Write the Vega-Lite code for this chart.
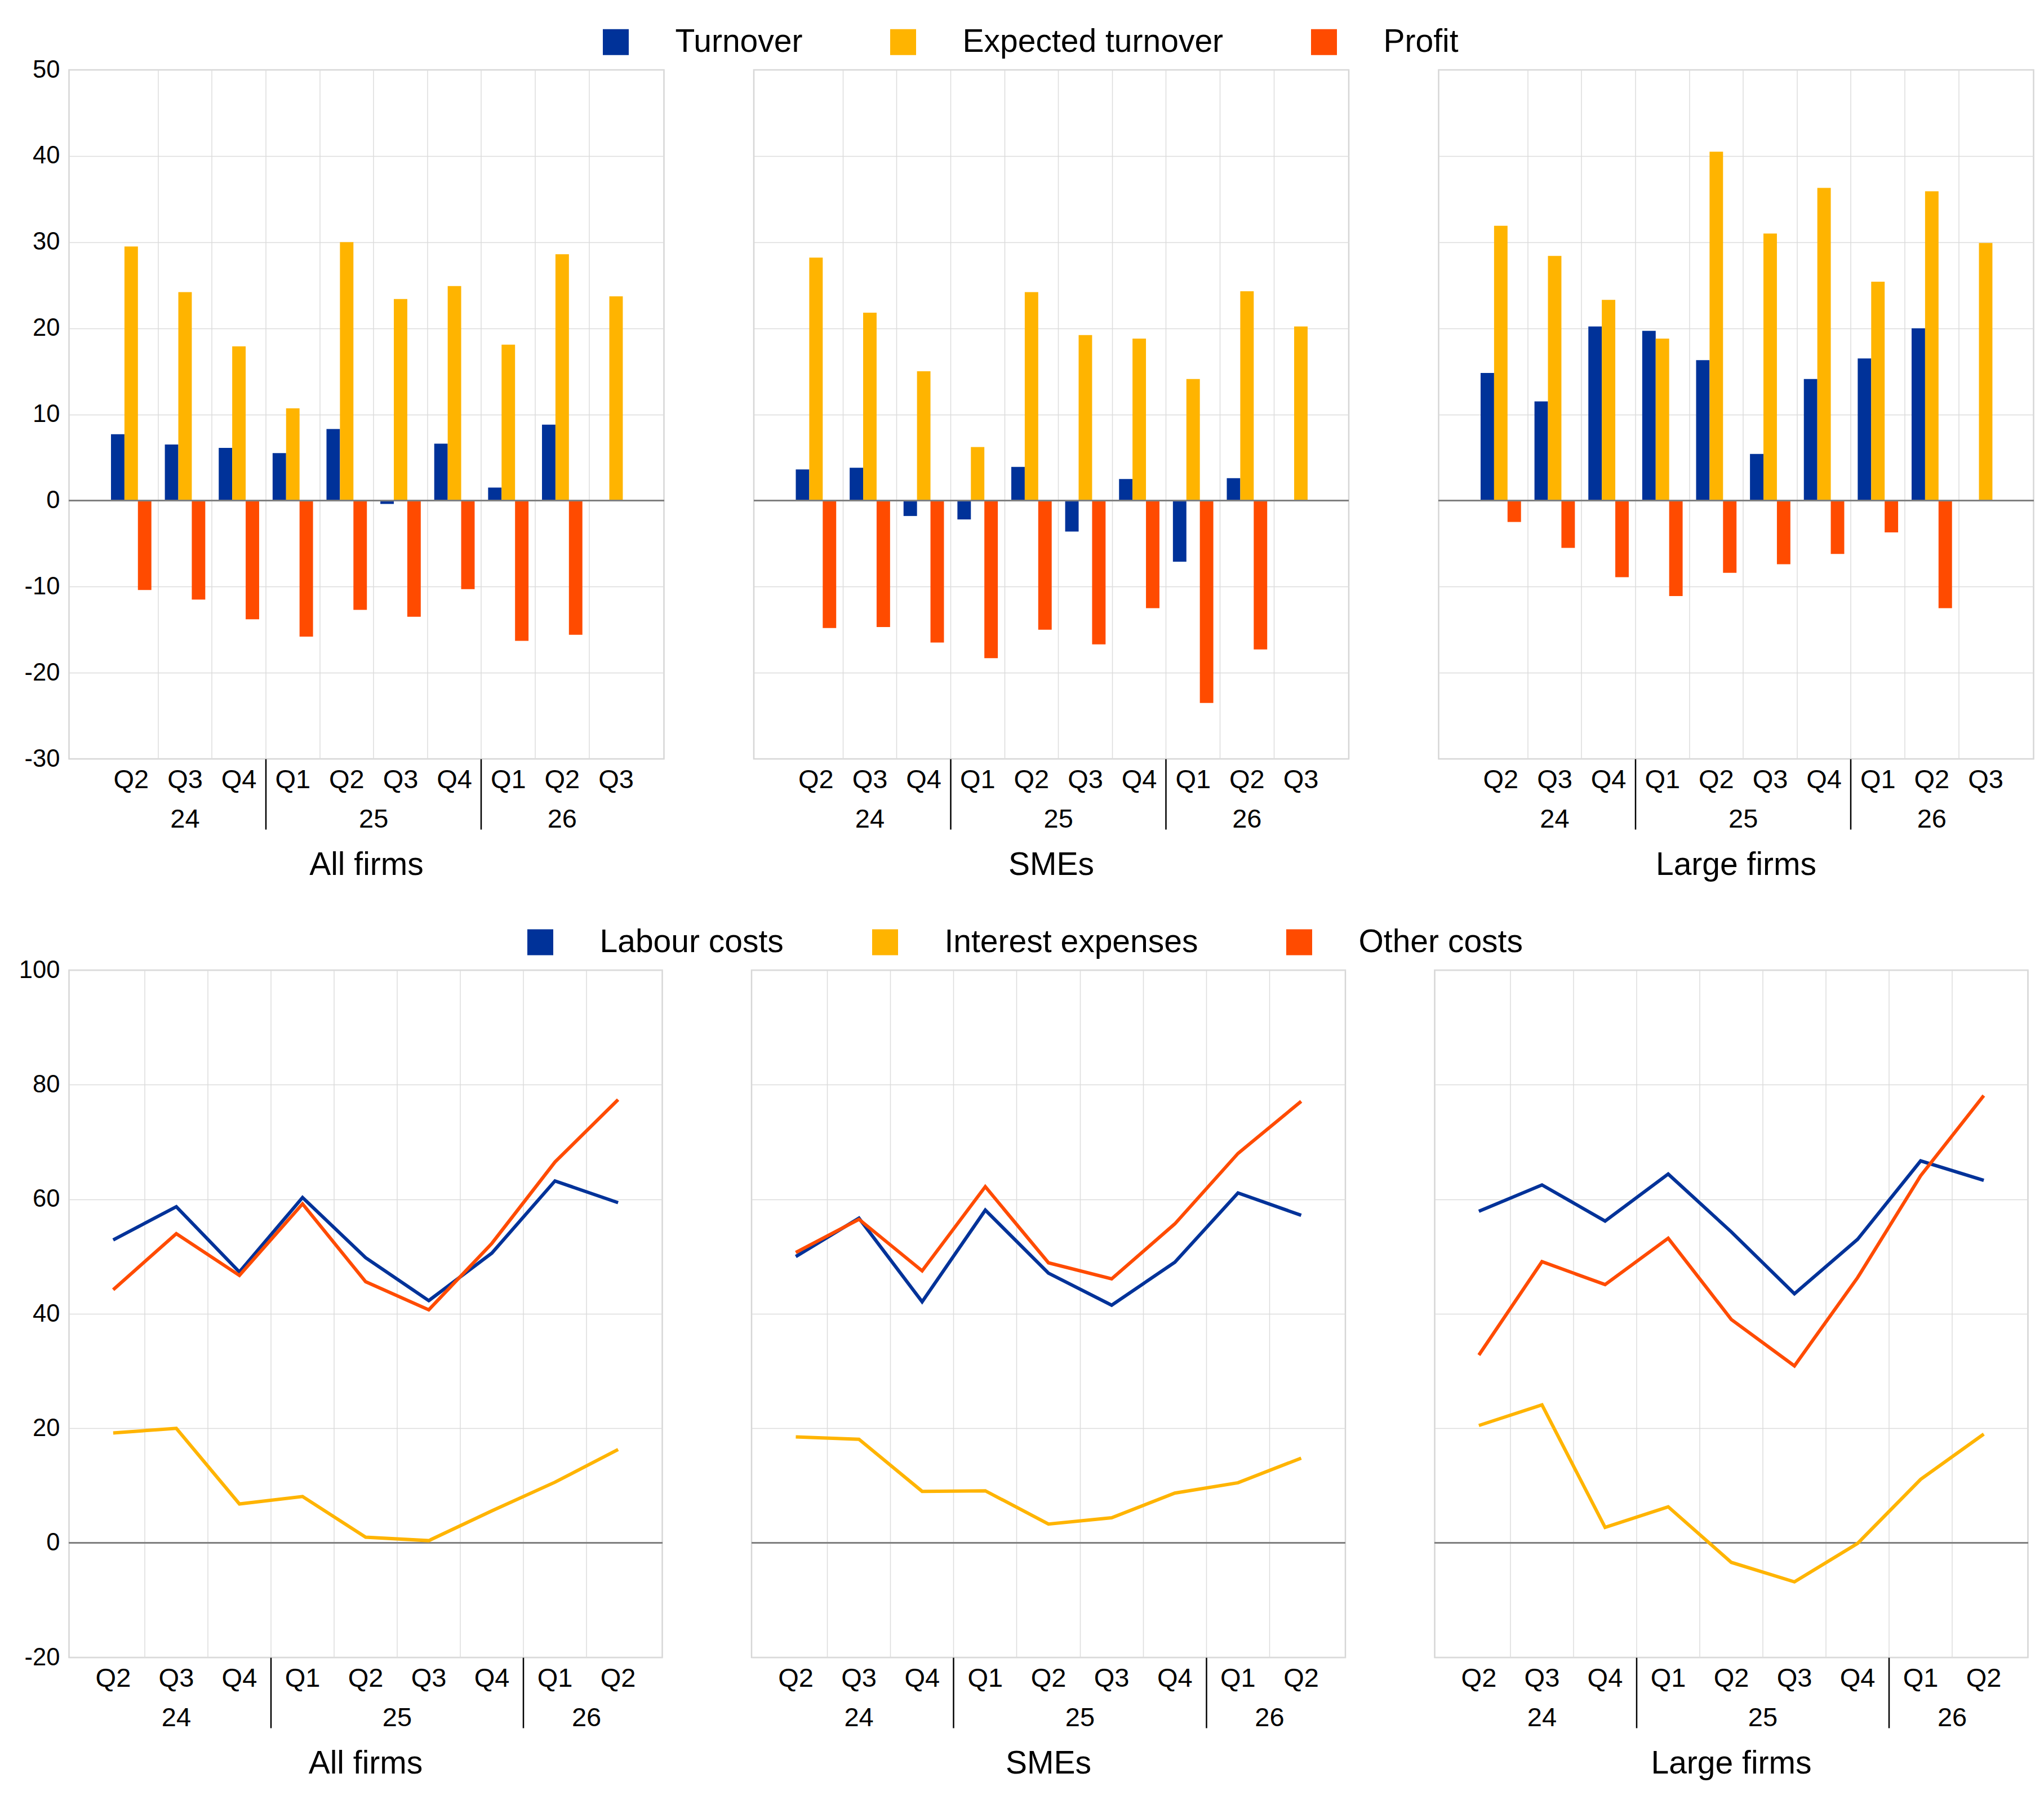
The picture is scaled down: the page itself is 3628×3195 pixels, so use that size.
{
  "$schema": "https://vega.github.io/schema/vega-lite/v6.json",
  "background": "white",
  "padding": {"left": 31.5, "top": 46, "right": 0, "bottom": 0},
  "datasets": {
    "bars": [
      {"panel": "All firms", "q": "24Q2", "series": "Turnover", "value": 7.7},
      {"panel": "All firms", "q": "24Q3", "series": "Turnover", "value": 6.5},
      {"panel": "All firms", "q": "24Q4", "series": "Turnover", "value": 6.1},
      {"panel": "All firms", "q": "25Q1", "series": "Turnover", "value": 5.5},
      {"panel": "All firms", "q": "25Q2", "series": "Turnover", "value": 8.3},
      {"panel": "All firms", "q": "25Q3", "series": "Turnover", "value": -0.4},
      {"panel": "All firms", "q": "25Q4", "series": "Turnover", "value": 6.6},
      {"panel": "All firms", "q": "26Q1", "series": "Turnover", "value": 1.5},
      {"panel": "All firms", "q": "26Q2", "series": "Turnover", "value": 8.8},
      {"panel": "All firms", "q": "24Q2", "series": "Expected turnover", "value": 29.5},
      {"panel": "All firms", "q": "24Q3", "series": "Expected turnover", "value": 24.2},
      {"panel": "All firms", "q": "24Q4", "series": "Expected turnover", "value": 17.9},
      {"panel": "All firms", "q": "25Q1", "series": "Expected turnover", "value": 10.7},
      {"panel": "All firms", "q": "25Q2", "series": "Expected turnover", "value": 30.0},
      {"panel": "All firms", "q": "25Q3", "series": "Expected turnover", "value": 23.4},
      {"panel": "All firms", "q": "25Q4", "series": "Expected turnover", "value": 24.9},
      {"panel": "All firms", "q": "26Q1", "series": "Expected turnover", "value": 18.1},
      {"panel": "All firms", "q": "26Q2", "series": "Expected turnover", "value": 28.6},
      {"panel": "All firms", "q": "26Q3", "series": "Expected turnover", "value": 23.7},
      {"panel": "All firms", "q": "24Q2", "series": "Profit", "value": -10.4},
      {"panel": "All firms", "q": "24Q3", "series": "Profit", "value": -11.5},
      {"panel": "All firms", "q": "24Q4", "series": "Profit", "value": -13.8},
      {"panel": "All firms", "q": "25Q1", "series": "Profit", "value": -15.8},
      {"panel": "All firms", "q": "25Q2", "series": "Profit", "value": -12.7},
      {"panel": "All firms", "q": "25Q3", "series": "Profit", "value": -13.5},
      {"panel": "All firms", "q": "25Q4", "series": "Profit", "value": -10.3},
      {"panel": "All firms", "q": "26Q1", "series": "Profit", "value": -16.3},
      {"panel": "All firms", "q": "26Q2", "series": "Profit", "value": -15.6},
      {"panel": "SMEs", "q": "24Q2", "series": "Turnover", "value": 3.6},
      {"panel": "SMEs", "q": "24Q3", "series": "Turnover", "value": 3.8},
      {"panel": "SMEs", "q": "24Q4", "series": "Turnover", "value": -1.8},
      {"panel": "SMEs", "q": "25Q1", "series": "Turnover", "value": -2.2},
      {"panel": "SMEs", "q": "25Q2", "series": "Turnover", "value": 3.9},
      {"panel": "SMEs", "q": "25Q3", "series": "Turnover", "value": -3.6},
      {"panel": "SMEs", "q": "25Q4", "series": "Turnover", "value": 2.5},
      {"panel": "SMEs", "q": "26Q1", "series": "Turnover", "value": -7.1},
      {"panel": "SMEs", "q": "26Q2", "series": "Turnover", "value": 2.6},
      {"panel": "SMEs", "q": "24Q2", "series": "Expected turnover", "value": 28.2},
      {"panel": "SMEs", "q": "24Q3", "series": "Expected turnover", "value": 21.8},
      {"panel": "SMEs", "q": "24Q4", "series": "Expected turnover", "value": 15.0},
      {"panel": "SMEs", "q": "25Q1", "series": "Expected turnover", "value": 6.2},
      {"panel": "SMEs", "q": "25Q2", "series": "Expected turnover", "value": 24.2},
      {"panel": "SMEs", "q": "25Q3", "series": "Expected turnover", "value": 19.2},
      {"panel": "SMEs", "q": "25Q4", "series": "Expected turnover", "value": 18.8},
      {"panel": "SMEs", "q": "26Q1", "series": "Expected turnover", "value": 14.1},
      {"panel": "SMEs", "q": "26Q2", "series": "Expected turnover", "value": 24.3},
      {"panel": "SMEs", "q": "26Q3", "series": "Expected turnover", "value": 20.2},
      {"panel": "SMEs", "q": "24Q2", "series": "Profit", "value": -14.8},
      {"panel": "SMEs", "q": "24Q3", "series": "Profit", "value": -14.7},
      {"panel": "SMEs", "q": "24Q4", "series": "Profit", "value": -16.5},
      {"panel": "SMEs", "q": "25Q1", "series": "Profit", "value": -18.3},
      {"panel": "SMEs", "q": "25Q2", "series": "Profit", "value": -15.0},
      {"panel": "SMEs", "q": "25Q3", "series": "Profit", "value": -16.7},
      {"panel": "SMEs", "q": "25Q4", "series": "Profit", "value": -12.5},
      {"panel": "SMEs", "q": "26Q1", "series": "Profit", "value": -23.5},
      {"panel": "SMEs", "q": "26Q2", "series": "Profit", "value": -17.3},
      {"panel": "Large firms", "q": "24Q2", "series": "Turnover", "value": 14.8},
      {"panel": "Large firms", "q": "24Q3", "series": "Turnover", "value": 11.5},
      {"panel": "Large firms", "q": "24Q4", "series": "Turnover", "value": 20.2},
      {"panel": "Large firms", "q": "25Q1", "series": "Turnover", "value": 19.7},
      {"panel": "Large firms", "q": "25Q2", "series": "Turnover", "value": 16.3},
      {"panel": "Large firms", "q": "25Q3", "series": "Turnover", "value": 5.4},
      {"panel": "Large firms", "q": "25Q4", "series": "Turnover", "value": 14.1},
      {"panel": "Large firms", "q": "26Q1", "series": "Turnover", "value": 16.5},
      {"panel": "Large firms", "q": "26Q2", "series": "Turnover", "value": 20.0},
      {"panel": "Large firms", "q": "24Q2", "series": "Expected turnover", "value": 31.9},
      {"panel": "Large firms", "q": "24Q3", "series": "Expected turnover", "value": 28.4},
      {"panel": "Large firms", "q": "24Q4", "series": "Expected turnover", "value": 23.3},
      {"panel": "Large firms", "q": "25Q1", "series": "Expected turnover", "value": 18.8},
      {"panel": "Large firms", "q": "25Q2", "series": "Expected turnover", "value": 40.5},
      {"panel": "Large firms", "q": "25Q3", "series": "Expected turnover", "value": 31.0},
      {"panel": "Large firms", "q": "25Q4", "series": "Expected turnover", "value": 36.3},
      {"panel": "Large firms", "q": "26Q1", "series": "Expected turnover", "value": 25.4},
      {"panel": "Large firms", "q": "26Q2", "series": "Expected turnover", "value": 35.9},
      {"panel": "Large firms", "q": "26Q3", "series": "Expected turnover", "value": 29.9},
      {"panel": "Large firms", "q": "24Q2", "series": "Profit", "value": -2.5},
      {"panel": "Large firms", "q": "24Q3", "series": "Profit", "value": -5.5},
      {"panel": "Large firms", "q": "24Q4", "series": "Profit", "value": -8.9},
      {"panel": "Large firms", "q": "25Q1", "series": "Profit", "value": -11.1},
      {"panel": "Large firms", "q": "25Q2", "series": "Profit", "value": -8.4},
      {"panel": "Large firms", "q": "25Q3", "series": "Profit", "value": -7.4},
      {"panel": "Large firms", "q": "25Q4", "series": "Profit", "value": -6.2},
      {"panel": "Large firms", "q": "26Q1", "series": "Profit", "value": -3.7},
      {"panel": "Large firms", "q": "26Q2", "series": "Profit", "value": -12.5}
    ],
    "lines": [
      {"panel": "All firms", "q": "24Q2", "series": "Labour costs", "value": 52.9},
      {"panel": "All firms", "q": "24Q3", "series": "Labour costs", "value": 58.7},
      {"panel": "All firms", "q": "24Q4", "series": "Labour costs", "value": 47.3},
      {"panel": "All firms", "q": "25Q1", "series": "Labour costs", "value": 60.3},
      {"panel": "All firms", "q": "25Q2", "series": "Labour costs", "value": 49.8},
      {"panel": "All firms", "q": "25Q3", "series": "Labour costs", "value": 42.3},
      {"panel": "All firms", "q": "25Q4", "series": "Labour costs", "value": 50.6},
      {"panel": "All firms", "q": "26Q1", "series": "Labour costs", "value": 63.2},
      {"panel": "All firms", "q": "26Q2", "series": "Labour costs", "value": 59.4},
      {"panel": "All firms", "q": "24Q2", "series": "Interest expenses", "value": 19.2},
      {"panel": "All firms", "q": "24Q3", "series": "Interest expenses", "value": 20.0},
      {"panel": "All firms", "q": "24Q4", "series": "Interest expenses", "value": 6.8},
      {"panel": "All firms", "q": "25Q1", "series": "Interest expenses", "value": 8.1},
      {"panel": "All firms", "q": "25Q2", "series": "Interest expenses", "value": 1.0},
      {"panel": "All firms", "q": "25Q3", "series": "Interest expenses", "value": 0.4},
      {"panel": "All firms", "q": "25Q4", "series": "Interest expenses", "value": 5.6},
      {"panel": "All firms", "q": "26Q1", "series": "Interest expenses", "value": 10.6},
      {"panel": "All firms", "q": "26Q2", "series": "Interest expenses", "value": 16.3},
      {"panel": "All firms", "q": "24Q2", "series": "Other costs", "value": 44.2},
      {"panel": "All firms", "q": "24Q3", "series": "Other costs", "value": 54.0},
      {"panel": "All firms", "q": "24Q4", "series": "Other costs", "value": 46.7},
      {"panel": "All firms", "q": "25Q1", "series": "Other costs", "value": 59.2},
      {"panel": "All firms", "q": "25Q2", "series": "Other costs", "value": 45.6},
      {"panel": "All firms", "q": "25Q3", "series": "Other costs", "value": 40.7},
      {"panel": "All firms", "q": "25Q4", "series": "Other costs", "value": 52.3},
      {"panel": "All firms", "q": "26Q1", "series": "Other costs", "value": 66.5},
      {"panel": "All firms", "q": "26Q2", "series": "Other costs", "value": 77.4},
      {"panel": "SMEs", "q": "24Q2", "series": "Labour costs", "value": 50.0},
      {"panel": "SMEs", "q": "24Q3", "series": "Labour costs", "value": 56.7},
      {"panel": "SMEs", "q": "24Q4", "series": "Labour costs", "value": 42.1},
      {"panel": "SMEs", "q": "25Q1", "series": "Labour costs", "value": 58.1},
      {"panel": "SMEs", "q": "25Q2", "series": "Labour costs", "value": 47.1},
      {"panel": "SMEs", "q": "25Q3", "series": "Labour costs", "value": 41.5},
      {"panel": "SMEs", "q": "25Q4", "series": "Labour costs", "value": 49.0},
      {"panel": "SMEs", "q": "26Q1", "series": "Labour costs", "value": 61.1},
      {"panel": "SMEs", "q": "26Q2", "series": "Labour costs", "value": 57.2},
      {"panel": "SMEs", "q": "24Q2", "series": "Interest expenses", "value": 18.5},
      {"panel": "SMEs", "q": "24Q3", "series": "Interest expenses", "value": 18.1},
      {"panel": "SMEs", "q": "24Q4", "series": "Interest expenses", "value": 9.0},
      {"panel": "SMEs", "q": "25Q1", "series": "Interest expenses", "value": 9.1},
      {"panel": "SMEs", "q": "25Q2", "series": "Interest expenses", "value": 3.3},
      {"panel": "SMEs", "q": "25Q3", "series": "Interest expenses", "value": 4.4},
      {"panel": "SMEs", "q": "25Q4", "series": "Interest expenses", "value": 8.7},
      {"panel": "SMEs", "q": "26Q1", "series": "Interest expenses", "value": 10.5},
      {"panel": "SMEs", "q": "26Q2", "series": "Interest expenses", "value": 14.8},
      {"panel": "SMEs", "q": "24Q2", "series": "Other costs", "value": 50.7},
      {"panel": "SMEs", "q": "24Q3", "series": "Other costs", "value": 56.5},
      {"panel": "SMEs", "q": "24Q4", "series": "Other costs", "value": 47.5},
      {"panel": "SMEs", "q": "25Q1", "series": "Other costs", "value": 62.2},
      {"panel": "SMEs", "q": "25Q2", "series": "Other costs", "value": 48.9},
      {"panel": "SMEs", "q": "25Q3", "series": "Other costs", "value": 46.1},
      {"panel": "SMEs", "q": "25Q4", "series": "Other costs", "value": 55.7},
      {"panel": "SMEs", "q": "26Q1", "series": "Other costs", "value": 68.0},
      {"panel": "SMEs", "q": "26Q2", "series": "Other costs", "value": 77.1},
      {"panel": "Large firms", "q": "24Q2", "series": "Labour costs", "value": 57.9},
      {"panel": "Large firms", "q": "24Q3", "series": "Labour costs", "value": 62.5},
      {"panel": "Large firms", "q": "24Q4", "series": "Labour costs", "value": 56.2},
      {"panel": "Large firms", "q": "25Q1", "series": "Labour costs", "value": 64.4},
      {"panel": "Large firms", "q": "25Q2", "series": "Labour costs", "value": 54.3},
      {"panel": "Large firms", "q": "25Q3", "series": "Labour costs", "value": 43.5},
      {"panel": "Large firms", "q": "25Q4", "series": "Labour costs", "value": 53.0},
      {"panel": "Large firms", "q": "26Q1", "series": "Labour costs", "value": 66.7},
      {"panel": "Large firms", "q": "26Q2", "series": "Labour costs", "value": 63.3},
      {"panel": "Large firms", "q": "24Q2", "series": "Interest expenses", "value": 20.5},
      {"panel": "Large firms", "q": "24Q3", "series": "Interest expenses", "value": 24.1},
      {"panel": "Large firms", "q": "24Q4", "series": "Interest expenses", "value": 2.7},
      {"panel": "Large firms", "q": "25Q1", "series": "Interest expenses", "value": 6.3},
      {"panel": "Large firms", "q": "25Q2", "series": "Interest expenses", "value": -3.4},
      {"panel": "Large firms", "q": "25Q3", "series": "Interest expenses", "value": -6.8},
      {"panel": "Large firms", "q": "25Q4", "series": "Interest expenses", "value": -0.1},
      {"panel": "Large firms", "q": "26Q1", "series": "Interest expenses", "value": 11.1},
      {"panel": "Large firms", "q": "26Q2", "series": "Interest expenses", "value": 19.0},
      {"panel": "Large firms", "q": "24Q2", "series": "Other costs", "value": 32.8},
      {"panel": "Large firms", "q": "24Q3", "series": "Other costs", "value": 49.1},
      {"panel": "Large firms", "q": "24Q4", "series": "Other costs", "value": 45.1},
      {"panel": "Large firms", "q": "25Q1", "series": "Other costs", "value": 53.2},
      {"panel": "Large firms", "q": "25Q2", "series": "Other costs", "value": 39.0},
      {"panel": "Large firms", "q": "25Q3", "series": "Other costs", "value": 30.9},
      {"panel": "Large firms", "q": "25Q4", "series": "Other costs", "value": 46.3},
      {"panel": "Large firms", "q": "26Q1", "series": "Other costs", "value": 64.1},
      {"panel": "Large firms", "q": "26Q2", "series": "Other costs", "value": 78.1}
    ]
  },
  "concat": [
    {
      "spacing": 153.5,
      "hconcat": [
        {
          "width": 1056, "height": 1223,
          "data": {"name": "bars"},
          "transform": [{"filter": "datum.panel == 'All firms'"}],
          "title": {"text": "All firms", "orient": "bottom", "offset": 31},
          "layer": [
            {
              "mark": {"type": "bar"},
              "encoding": {
                "x": {"field": "q", "type": "ordinal", "scale": {"type": "band", "paddingInner": 0, "paddingOuter": 0.5215, "align": 0.627},
                  "axis": {"title": null, "labelExpr": "substring(datum.value, 2)", "labelAngle": 0, "labelFontSize": 47, "labelPadding": 14, "ticks": false, "domain": false, "grid": true, "bandPosition": 0, "tickExtra": false, "gridColor": "#dcdcdc", "gridWidth": 1.5, "gridOpacity": {"condition": {"test": "datum.value == '24Q2'", "value": 0}, "value": 1}}},
                "xOffset": {"field": "series", "scale": {"domain": ["Turnover", "Expected turnover", "Profit"], "paddingInner": 0, "paddingOuter": 0.5}},
                "y": {"field": "value", "type": "quantitative", "scale": {"domain": [-30, 50], "nice": false},
                  "axis": {"title": null, "values": [-30, -20, -10, 0, 10, 20, 30, 40, 50], "labelExpr": "'' + datum.value", "labelFontSize": 43.5, "labelPadding": 16.6, "ticks": false, "domain": false, "grid": true, "gridColor": "#dcdcdc", "gridWidth": 1.5}},
                "color": {"field": "series", "type": "nominal", "scale": {"domain": ["Turnover", "Expected turnover", "Profit"], "range": ["#003299", "#ffb400", "#ff4b00"]},
                  "legend": {"title": null, "orient": "top", "direction": "horizontal", "symbolType": "square", "symbolSize": 2116, "symbolStrokeWidth": 0, "labelFontSize": 57, "labelLimit": 0, "labelOffset": 77, "columnPadding": 150, "offset": -3}}
              }
            },
            {"mark": {"type": "rule", "color": "#808080", "strokeWidth": 2.5}, "encoding": {"y": {"datum": 0}}},
            {
              "mark": {"type": "point", "opacity": 0},
              "encoding": {
                "x": {"field": "q", "type": "ordinal", "scale": {"type": "band", "paddingInner": 0, "paddingOuter": 0.5215, "align": 0.627},
                  "axis": {"orient": "bottom", "title": null, "domain": false, "grid": false, "bandPosition": 0, "tickExtra": false, "ticks": true, "tickSize": 125, "tickColor": "#000000", "tickWidth": 2.5,
                    "tickOpacity": {"condition": {"test": "datum.value == '25Q1' || datum.value == '26Q1'", "value": 1}, "value": 0},
                    "labelExpr": "datum.value == '24Q3' ? '24' : datum.value == '25Q2' ? '25' : datum.value == '26Q2' ? '26' : ''",
                    "labelOffset": {"condition": {"test": "datum.value == '25Q2'", "value": 47.8}, "value": 0},
                    "labelPadding": -41, "labelFontSize": 47, "labelAngle": 0}}
              }
            }
          ],
          "resolve": {"scale": {"x": "independent"}, "axis": {"x": "independent"}}
        },
        {
          "width": 1056, "height": 1223,
          "data": {"name": "bars"},
          "transform": [{"filter": "datum.panel == 'SMEs'"}],
          "title": {"text": "SMEs", "orient": "bottom", "offset": 31},
          "layer": [
            {
              "mark": {"type": "bar"},
              "encoding": {
                "x": {"field": "q", "type": "ordinal", "scale": {"type": "band", "paddingInner": 0, "paddingOuter": 0.5215, "align": 0.627},
                  "axis": {"title": null, "labelExpr": "substring(datum.value, 2)", "labelAngle": 0, "labelFontSize": 47, "labelPadding": 14, "ticks": false, "domain": false, "grid": true, "bandPosition": 0, "tickExtra": false, "gridColor": "#dcdcdc", "gridWidth": 1.5, "gridOpacity": {"condition": {"test": "datum.value == '24Q2'", "value": 0}, "value": 1}}},
                "xOffset": {"field": "series", "scale": {"domain": ["Turnover", "Expected turnover", "Profit"], "paddingInner": 0, "paddingOuter": 0.5}},
                "y": {"field": "value", "type": "quantitative", "scale": {"domain": [-30, 50], "nice": false},
                  "axis": {"title": null, "values": [-30, -20, -10, 0, 10, 20, 30, 40, 50], "labels": false, "ticks": false, "domain": false, "grid": true, "gridColor": "#dcdcdc", "gridWidth": 1.5}},
                "color": {"field": "series", "type": "nominal", "scale": {"domain": ["Turnover", "Expected turnover", "Profit"], "range": ["#003299", "#ffb400", "#ff4b00"]}}
              }
            },
            {"mark": {"type": "rule", "color": "#808080", "strokeWidth": 2.5}, "encoding": {"y": {"datum": 0}}},
            {
              "mark": {"type": "point", "opacity": 0},
              "encoding": {
                "x": {"field": "q", "type": "ordinal", "scale": {"type": "band", "paddingInner": 0, "paddingOuter": 0.5215, "align": 0.627},
                  "axis": {"orient": "bottom", "title": null, "domain": false, "grid": false, "bandPosition": 0, "tickExtra": false, "ticks": true, "tickSize": 125, "tickColor": "#000000", "tickWidth": 2.5,
                    "tickOpacity": {"condition": {"test": "datum.value == '25Q1' || datum.value == '26Q1'", "value": 1}, "value": 0},
                    "labelExpr": "datum.value == '24Q3' ? '24' : datum.value == '25Q2' ? '25' : datum.value == '26Q2' ? '26' : ''",
                    "labelOffset": {"condition": {"test": "datum.value == '25Q2'", "value": 47.8}, "value": 0},
                    "labelPadding": -41, "labelFontSize": 47, "labelAngle": 0}}
              }
            }
          ],
          "resolve": {"scale": {"x": "independent"}, "axis": {"x": "independent"}}
        },
        {
          "width": 1056, "height": 1223,
          "data": {"name": "bars"},
          "transform": [{"filter": "datum.panel == 'Large firms'"}],
          "title": {"text": "Large firms", "orient": "bottom", "offset": 31},
          "layer": [
            {
              "mark": {"type": "bar"},
              "encoding": {
                "x": {"field": "q", "type": "ordinal", "scale": {"type": "band", "paddingInner": 0, "paddingOuter": 0.5215, "align": 0.627},
                  "axis": {"title": null, "labelExpr": "substring(datum.value, 2)", "labelAngle": 0, "labelFontSize": 47, "labelPadding": 14, "ticks": false, "domain": false, "grid": true, "bandPosition": 0, "tickExtra": false, "gridColor": "#dcdcdc", "gridWidth": 1.5, "gridOpacity": {"condition": {"test": "datum.value == '24Q2'", "value": 0}, "value": 1}}},
                "xOffset": {"field": "series", "scale": {"domain": ["Turnover", "Expected turnover", "Profit"], "paddingInner": 0, "paddingOuter": 0.5}},
                "y": {"field": "value", "type": "quantitative", "scale": {"domain": [-30, 50], "nice": false},
                  "axis": {"title": null, "values": [-30, -20, -10, 0, 10, 20, 30, 40, 50], "labels": false, "ticks": false, "domain": false, "grid": true, "gridColor": "#dcdcdc", "gridWidth": 1.5}},
                "color": {"field": "series", "type": "nominal", "scale": {"domain": ["Turnover", "Expected turnover", "Profit"], "range": ["#003299", "#ffb400", "#ff4b00"]}}
              }
            },
            {"mark": {"type": "rule", "color": "#808080", "strokeWidth": 2.5}, "encoding": {"y": {"datum": 0}}},
            {
              "mark": {"type": "point", "opacity": 0},
              "encoding": {
                "x": {"field": "q", "type": "ordinal", "scale": {"type": "band", "paddingInner": 0, "paddingOuter": 0.5215, "align": 0.627},
                  "axis": {"orient": "bottom", "title": null, "domain": false, "grid": false, "bandPosition": 0, "tickExtra": false, "ticks": true, "tickSize": 125, "tickColor": "#000000", "tickWidth": 2.5,
                    "tickOpacity": {"condition": {"test": "datum.value == '25Q1' || datum.value == '26Q1'", "value": 1}, "value": 0},
                    "labelExpr": "datum.value == '24Q3' ? '24' : datum.value == '25Q2' ? '25' : datum.value == '26Q2' ? '26' : ''",
                    "labelOffset": {"condition": {"test": "datum.value == '25Q2'", "value": 47.8}, "value": 0},
                    "labelPadding": -41, "labelFontSize": 47, "labelAngle": 0}}
              }
            }
          ],
          "resolve": {"scale": {"x": "independent"}, "axis": {"x": "independent"}}
        }
      ]
    },
    {
      "spacing": 152.5,
      "hconcat": [
        {
          "width": 1053, "height": 1220,
          "data": {"name": "lines"},
          "transform": [{"filter": "datum.panel == 'All firms'"}],
          "title": {"text": "All firms", "orient": "bottom", "offset": 31},
          "layer": [
            {"mark": {"type": "rule", "color": "#808080", "strokeWidth": 2.5}, "encoding": {"y": {"datum": 0}}},
            {
              "mark": {"type": "line", "strokeWidth": 6},
              "encoding": {
                "x": {"field": "q", "type": "ordinal", "scale": {"type": "band", "paddingInner": 0, "paddingOuter": 0.2},
                  "axis": {"title": null, "labelExpr": "substring(datum.value, 2)", "labelAngle": 0, "labelFontSize": 47, "labelPadding": 14, "ticks": false, "domain": false, "grid": true, "bandPosition": 0, "tickExtra": false, "gridColor": "#dcdcdc", "gridWidth": 1.5, "gridOpacity": {"condition": {"test": "datum.value == '24Q2'", "value": 0}, "value": 1}}},
                "y": {"field": "value", "type": "quantitative", "scale": {"domain": [-20, 100], "nice": false},
                  "axis": {"title": null, "values": [-20, 0, 20, 40, 60, 80, 100], "labelExpr": "'' + datum.value", "labelFontSize": 43.5, "labelPadding": 16.6, "ticks": false, "domain": false, "grid": true, "gridColor": "#dcdcdc", "gridWidth": 1.5}},
                "color": {"field": "series", "type": "nominal", "scale": {"domain": ["Labour costs", "Interest expenses", "Other costs"], "range": ["#003299", "#ffb400", "#ff4b00"]},
                  "legend": {"title": null, "orient": "top", "direction": "horizontal", "symbolType": "square", "symbolSize": 529, "symbolStrokeWidth": 23, "labelFontSize": 57, "labelLimit": 0, "labelOffset": 77, "columnPadding": 122, "offset": -32}}
              }
            },
            {
              "mark": {"type": "point", "opacity": 0},
              "encoding": {
                "x": {"field": "q", "type": "ordinal", "scale": {"type": "band", "paddingInner": 0, "paddingOuter": 0.2},
                  "axis": {"orient": "bottom", "title": null, "domain": false, "grid": false, "bandPosition": 0, "tickExtra": false, "ticks": true, "tickSize": 125, "tickColor": "#000000", "tickWidth": 2.5,
                    "tickOpacity": {"condition": {"test": "datum.value == '25Q1' || datum.value == '26Q1'", "value": 1}, "value": 0},
                    "labelExpr": "datum.value == '24Q3' ? '24' : datum.value == '25Q2' ? '25' : datum.value == '26Q1' ? '26' : ''",
                    "labelOffset": {"condition": {"test": "datum.value == '25Q2' || datum.value == '26Q1'", "value": 56}, "value": 0},
                    "labelPadding": -41, "labelFontSize": 47, "labelAngle": 0}}
              }
            }
          ],
          "resolve": {"scale": {"x": "independent"}, "axis": {"x": "independent"}}
        },
        {
          "width": 1054, "height": 1220,
          "data": {"name": "lines"},
          "transform": [{"filter": "datum.panel == 'SMEs'"}],
          "title": {"text": "SMEs", "orient": "bottom", "offset": 31},
          "layer": [
            {"mark": {"type": "rule", "color": "#808080", "strokeWidth": 2.5}, "encoding": {"y": {"datum": 0}}},
            {
              "mark": {"type": "line", "strokeWidth": 6},
              "encoding": {
                "x": {"field": "q", "type": "ordinal", "scale": {"type": "band", "paddingInner": 0, "paddingOuter": 0.2},
                  "axis": {"title": null, "labelExpr": "substring(datum.value, 2)", "labelAngle": 0, "labelFontSize": 47, "labelPadding": 14, "ticks": false, "domain": false, "grid": true, "bandPosition": 0, "tickExtra": false, "gridColor": "#dcdcdc", "gridWidth": 1.5, "gridOpacity": {"condition": {"test": "datum.value == '24Q2'", "value": 0}, "value": 1}}},
                "y": {"field": "value", "type": "quantitative", "scale": {"domain": [-20, 100], "nice": false},
                  "axis": {"title": null, "values": [-20, 0, 20, 40, 60, 80, 100], "labels": false, "ticks": false, "domain": false, "grid": true, "gridColor": "#dcdcdc", "gridWidth": 1.5}},
                "color": {"field": "series", "type": "nominal", "scale": {"domain": ["Labour costs", "Interest expenses", "Other costs"], "range": ["#003299", "#ffb400", "#ff4b00"]}}
              }
            },
            {
              "mark": {"type": "point", "opacity": 0},
              "encoding": {
                "x": {"field": "q", "type": "ordinal", "scale": {"type": "band", "paddingInner": 0, "paddingOuter": 0.2},
                  "axis": {"orient": "bottom", "title": null, "domain": false, "grid": false, "bandPosition": 0, "tickExtra": false, "ticks": true, "tickSize": 125, "tickColor": "#000000", "tickWidth": 2.5,
                    "tickOpacity": {"condition": {"test": "datum.value == '25Q1' || datum.value == '26Q1'", "value": 1}, "value": 0},
                    "labelExpr": "datum.value == '24Q3' ? '24' : datum.value == '25Q2' ? '25' : datum.value == '26Q1' ? '26' : ''",
                    "labelOffset": {"condition": {"test": "datum.value == '25Q2' || datum.value == '26Q1'", "value": 56}, "value": 0},
                    "labelPadding": -41, "labelFontSize": 47, "labelAngle": 0}}
              }
            }
          ],
          "resolve": {"scale": {"x": "independent"}, "axis": {"x": "independent"}}
        },
        {
          "width": 1053, "height": 1220,
          "data": {"name": "lines"},
          "transform": [{"filter": "datum.panel == 'Large firms'"}],
          "title": {"text": "Large firms", "orient": "bottom", "offset": 31},
          "layer": [
            {"mark": {"type": "rule", "color": "#808080", "strokeWidth": 2.5}, "encoding": {"y": {"datum": 0}}},
            {
              "mark": {"type": "line", "strokeWidth": 6},
              "encoding": {
                "x": {"field": "q", "type": "ordinal", "scale": {"type": "band", "paddingInner": 0, "paddingOuter": 0.2},
                  "axis": {"title": null, "labelExpr": "substring(datum.value, 2)", "labelAngle": 0, "labelFontSize": 47, "labelPadding": 14, "ticks": false, "domain": false, "grid": true, "bandPosition": 0, "tickExtra": false, "gridColor": "#dcdcdc", "gridWidth": 1.5, "gridOpacity": {"condition": {"test": "datum.value == '24Q2'", "value": 0}, "value": 1}}},
                "y": {"field": "value", "type": "quantitative", "scale": {"domain": [-20, 100], "nice": false},
                  "axis": {"title": null, "values": [-20, 0, 20, 40, 60, 80, 100], "labels": false, "ticks": false, "domain": false, "grid": true, "gridColor": "#dcdcdc", "gridWidth": 1.5}},
                "color": {"field": "series", "type": "nominal", "scale": {"domain": ["Labour costs", "Interest expenses", "Other costs"], "range": ["#003299", "#ffb400", "#ff4b00"]}}
              }
            },
            {
              "mark": {"type": "point", "opacity": 0},
              "encoding": {
                "x": {"field": "q", "type": "ordinal", "scale": {"type": "band", "paddingInner": 0, "paddingOuter": 0.2},
                  "axis": {"orient": "bottom", "title": null, "domain": false, "grid": false, "bandPosition": 0, "tickExtra": false, "ticks": true, "tickSize": 125, "tickColor": "#000000", "tickWidth": 2.5,
                    "tickOpacity": {"condition": {"test": "datum.value == '25Q1' || datum.value == '26Q1'", "value": 1}, "value": 0},
                    "labelExpr": "datum.value == '24Q3' ? '24' : datum.value == '25Q2' ? '25' : datum.value == '26Q1' ? '26' : ''",
                    "labelOffset": {"condition": {"test": "datum.value == '25Q2' || datum.value == '26Q1'", "value": 56}, "value": 0},
                    "labelPadding": -41, "labelFontSize": 47, "labelAngle": 0}}
              }
            }
          ],
          "resolve": {"scale": {"x": "independent"}, "axis": {"x": "independent"}}
        }
      ]
    }
  ],
  "columns": 1,
  "spacing": 78,
  "align": "none",
  "resolve": {"scale": {"color": "independent"}},
  "config": {
    "font": "Liberation Sans",
    "view": {"stroke": "#d6d6d6", "strokeWidth": 2.5},
    "axis": {"labelFont": "Liberation Sans", "labelColor": "#000000"},
    "legend": {"labelFont": "Liberation Sans", "labelColor": "#000000", "layout": {"top": {"anchor": "middle"}}},
    "title": {"font": "Liberation Sans", "fontSize": 57, "fontWeight": "normal", "color": "#000000"}
  }
}
